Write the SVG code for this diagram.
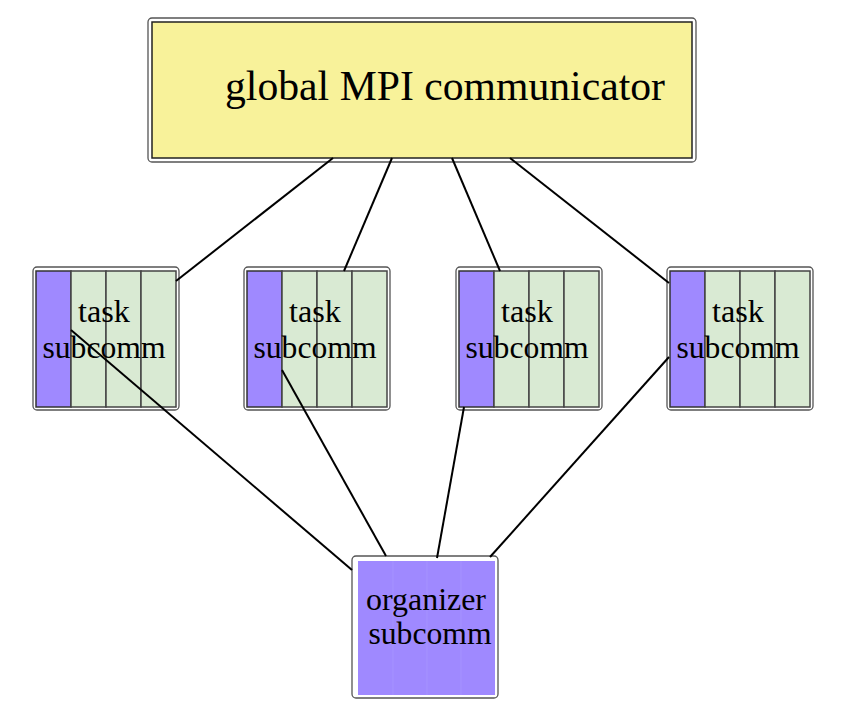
<svg xmlns="http://www.w3.org/2000/svg" width="858" height="720" viewBox="0 0 858 720">
<style>
.outer{fill:#ffffff;stroke:#555;stroke-width:1.3}
.cellp{fill:#9f89ff;stroke:#333;stroke-width:1.5}
.cellg{fill:#d9ead3;stroke:#444;stroke-width:1.5}
.t{font-family:"Liberation Serif","Times New Roman",serif;fill:#000;text-anchor:middle}
.tl{font-size:31px}
.edge{stroke:#000;stroke-width:2;fill:none}
</style>
<rect width="858" height="720" fill="#ffffff"/>
<g id="global">
<rect class="outer" x="148" y="18" width="548" height="144" rx="4"/>
<rect x="152" y="22" width="540" height="136" fill="#f8f29a" stroke="#222" stroke-width="1.5"/>
<text class="t" x="445" y="100" font-size="42" textLength="440" lengthAdjust="spacingAndGlyphs">global MPI communicator</text>
</g>
<g id="task1">
<rect class="outer" x="33" y="267" width="146" height="143" rx="4"/>
<rect class="cellp" x="36" y="271" width="35" height="136"/>
<rect class="cellg" x="71" y="271" width="35" height="136"/>
<rect class="cellg" x="106" y="271" width="35" height="136"/>
<rect class="cellg" x="141" y="271" width="35" height="136"/>
<text class="t tl" x="104" y="322" textLength="52" lengthAdjust="spacingAndGlyphs">task</text>
<text class="t tl" x="104" y="358" textLength="123" lengthAdjust="spacingAndGlyphs">subcomm</text>
</g>
<g id="task2">
<rect class="outer" x="244" y="267" width="146" height="143" rx="4"/>
<rect class="cellp" x="247" y="271" width="35" height="136"/>
<rect class="cellg" x="282" y="271" width="35" height="136"/>
<rect class="cellg" x="317" y="271" width="35" height="136"/>
<rect class="cellg" x="352" y="271" width="35" height="136"/>
<text class="t tl" x="315" y="322" textLength="52" lengthAdjust="spacingAndGlyphs">task</text>
<text class="t tl" x="315" y="358" textLength="123" lengthAdjust="spacingAndGlyphs">subcomm</text>
</g>
<g id="task3">
<rect class="outer" x="456" y="267" width="146" height="143" rx="4"/>
<rect class="cellp" x="459" y="271" width="35" height="136"/>
<rect class="cellg" x="494" y="271" width="35" height="136"/>
<rect class="cellg" x="529" y="271" width="35" height="136"/>
<rect class="cellg" x="564" y="271" width="35" height="136"/>
<text class="t tl" x="527" y="322" textLength="52" lengthAdjust="spacingAndGlyphs">task</text>
<text class="t tl" x="527" y="358" textLength="123" lengthAdjust="spacingAndGlyphs">subcomm</text>
</g>
<g id="task4">
<rect class="outer" x="667" y="267" width="146" height="143" rx="4"/>
<rect class="cellp" x="670" y="271" width="35" height="136"/>
<rect class="cellg" x="705" y="271" width="35" height="136"/>
<rect class="cellg" x="740" y="271" width="35" height="136"/>
<rect class="cellg" x="775" y="271" width="35" height="136"/>
<text class="t tl" x="738" y="322" textLength="52" lengthAdjust="spacingAndGlyphs">task</text>
<text class="t tl" x="738" y="358" textLength="123" lengthAdjust="spacingAndGlyphs">subcomm</text>
</g>
<g id="organizer">
<rect class="outer" x="352" y="556" width="146" height="142" rx="4"/>
<rect x="358" y="561" width="137" height="134" fill="#9f89ff"/>
<line x1="393" y1="561" x2="393" y2="695" stroke="#a592ff" stroke-width="1"/>
<line x1="427" y1="561" x2="427" y2="695" stroke="#a592ff" stroke-width="1"/>
<line x1="461" y1="561" x2="461" y2="695" stroke="#a592ff" stroke-width="1"/>
<text class="t tl" x="426" y="610" textLength="120" lengthAdjust="spacingAndGlyphs">organizer</text>
<text class="t tl" x="430" y="644" textLength="123" lengthAdjust="spacingAndGlyphs">subcomm</text>
</g>
<g id="connectors">
<line class="edge" x1="333" y1="158" x2="176" y2="281"/>
<line class="edge" x1="392" y1="158" x2="344" y2="271"/>
<line class="edge" x1="452" y1="158" x2="500" y2="271"/>
<line class="edge" x1="510" y1="158" x2="669" y2="283"/>
<line class="edge" x1="71" y1="330" x2="352" y2="570"/>
<line class="edge" x1="282" y1="370" x2="386" y2="556"/>
<line class="edge" x1="464" y1="407" x2="437" y2="558"/>
<line class="edge" x1="669" y1="357" x2="490" y2="557"/>
</g>
</svg>
